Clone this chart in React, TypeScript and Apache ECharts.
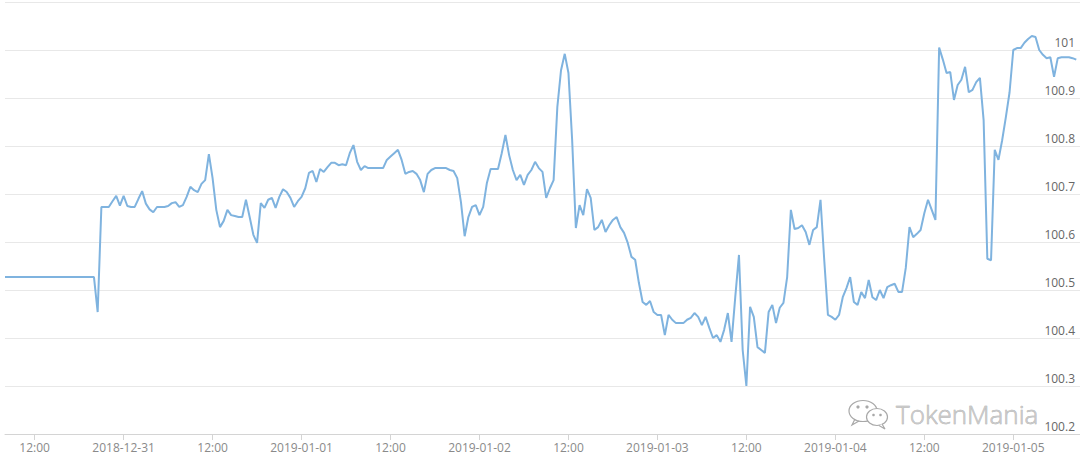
import React, { useEffect, useRef } from "react";
import * as echarts from "echarts";

// Prices sampled every 30 minutes, one array per day
const STEP_MINUTES = 30;

const dec30Start = "2018-12-30 08:00";
const dec30 = [
  100.527, 100.527, 100.527, 100.527, 100.527, 100.527, 100.527, 100.527, 100.527, 100.527,
  100.527, 100.527, 100.527, 100.527, 100.527, 100.527, 100.527, 100.527, 100.527, 100.527,
  100.527, 100.527, 100.527, 100.527, 100.527, 100.454, 100.673, 100.673, 100.673, 100.685,
  100.696, 100.676,
];

const dec31Start = "2018-12-31 00:00";
const dec31 = [
  100.696, 100.675, 100.673, 100.673, 100.69, 100.706, 100.68, 100.668, 100.662, 100.673,
  100.673, 100.673, 100.675, 100.681, 100.683, 100.673, 100.677, 100.694, 100.715, 100.708,
  100.704, 100.721, 100.729, 100.783, 100.733, 100.667, 100.631, 100.644, 100.667, 100.656,
  100.654, 100.652, 100.652, 100.688, 100.652, 100.615, 100.598, 100.681, 100.671, 100.688,
  100.692, 100.671, 100.694, 100.71, 100.704, 100.692, 100.673, 100.685,
];

const jan01Start = "2019-01-01 00:00";
const jan01 = [
  100.694, 100.712, 100.744, 100.748, 100.725, 100.752, 100.746, 100.756, 100.765, 100.765,
  100.76, 100.762, 100.76, 100.785, 100.802, 100.767, 100.75, 100.758, 100.754, 100.754,
  100.754, 100.754, 100.754, 100.771, 100.778, 100.785, 100.792, 100.771, 100.742, 100.746,
  100.748, 100.742, 100.729, 100.704, 100.742, 100.75, 100.754, 100.754, 100.754, 100.754,
  100.75, 100.748, 100.733, 100.683, 100.612, 100.652, 100.673, 100.677,
];

const jan02Start = "2019-01-02 00:00";
const jan02 = [
  100.656, 100.673, 100.723, 100.752, 100.752, 100.752, 100.785, 100.823, 100.781, 100.75,
  100.729, 100.74, 100.719, 100.74, 100.75, 100.767, 100.754, 100.746, 100.692, 100.712,
  100.729, 100.881, 100.958, 100.992, 100.952, 100.812, 100.629, 100.677, 100.656, 100.71,
  100.692, 100.625, 100.631, 100.646, 100.621, 100.635, 100.646, 100.652, 100.631, 100.619,
  100.598, 100.569, 100.563, 100.515, 100.475, 100.469, 100.477, 100.454,
];

const jan03Start = "2019-01-03 00:00";
const jan03 = [
  100.448, 100.448, 100.406, 100.448, 100.438, 100.431, 100.431, 100.431, 100.438, 100.442,
  100.452, 100.444, 100.427, 100.444, 100.421, 100.4, 100.406, 100.392, 100.417, 100.452,
  100.392, 100.485, 100.573, 100.375, 100.3, 100.465, 100.444, 100.381, 100.375, 100.369,
  100.454, 100.469, 100.431, 100.463, 100.473, 100.527, 100.667, 100.627, 100.629, 100.635,
  100.621, 100.594, 100.625, 100.631, 100.688, 100.563, 100.448, 100.444,
];

const jan04Start = "2019-01-04 00:00";
const jan04 = [
  100.438, 100.448, 100.485, 100.504, 100.527, 100.475, 100.469, 100.496, 100.483, 100.521,
  100.485, 100.479, 100.5, 100.483, 100.506, 100.51, 100.513, 100.496, 100.496, 100.546,
  100.631, 100.61, 100.617, 100.625, 100.66, 100.688, 100.667, 100.646, 101.005, 100.98,
  100.952, 100.954, 100.896, 100.927, 100.938, 100.965, 100.912, 100.917, 100.933, 100.942,
  100.854, 100.565, 100.562, 100.792, 100.771, 100.812, 100.86, 100.912,
];

const jan05Start = "2019-01-05 00:00";
const jan05 = [
  101.0, 101.004, 101.004, 101.015, 101.023, 101.029, 101.027, 101.0, 100.99, 100.983,
  100.985, 100.944, 100.983, 100.985, 100.985, 100.985, 100.983, 100.98,
];

// Axis ticks / labels
const xTickTimes = [
  "2018-12-30 12:00", "2018-12-31 00:00", "2018-12-31 12:00", "2019-01-01 00:00",
  "2019-01-01 12:00", "2019-01-02 00:00", "2019-01-02 12:00", "2019-01-03 00:00",
  "2019-01-03 12:00", "2019-01-04 00:00", "2019-01-04 12:00", "2019-01-05 00:00",
];
const xMinTime = "2018-12-30 08:00";
const xMaxTime = "2019-01-05 09:00";
const yMin = 100.2;
const yMax = 101.1;
const yStep = 0.1;
const yLabelValues = [100.2, 100.3, 100.4, 100.5, 100.6, 100.7, 100.8, 100.9, 101];

const watermarkText = "TokenMania";

function parseTime(s: string): number {
  const [d, t] = s.split(" ");
  const [Y, M, D] = d.split("-").map(Number);
  const [h, m] = t.split(":").map(Number);
  return new Date(Y, M - 1, D, h, m).getTime();
}

function pad(n: number) {
  return n < 10 ? "0" + n : String(n);
}

const dayBlocks: [string, number[]][] = [
  [dec30Start, dec30],
  [dec31Start, dec31],
  [jan01Start, jan01],
  [jan02Start, jan02],
  [jan03Start, jan03],
  [jan04Start, jan04],
  [jan05Start, jan05],
];

function buildData() {
  const out: [number, number][] = [];
  dayBlocks.forEach(([start, vals]) => {
    const base = parseTime(start);
    vals.forEach((v, j) => out.push([base + j * STEP_MINUTES * 60000, v]));
  });
  return out;
}

export default function App() {
  const ref = useRef<HTMLDivElement>(null);

  useEffect(() => {
    if (!ref.current) return;
    const chart = echarts.init(ref.current, null, { renderer: "svg" });
    const ticks = xTickTimes.map(parseTime);
    const gray = "#a8a8a8";

    chart.setOption({
      animation: false,
      backgroundColor: "#ffffff",
      grid: { left: 5, right: 0, top: 2, bottom: 25, containLabel: false },
      xAxis: {
        type: "value",
        min: parseTime(xMinTime),
        max: parseTime(xMaxTime),
        axisLine: { show: true, lineStyle: { color: "#d4d4d4", width: 1 } },
        axisTick: {
          show: true,
          length: 6,
          customValues: ticks,
          lineStyle: { color: "#d4d4d4" },
        },
        axisLabel: {
          customValues: ticks,
          margin: 7,
          color: "#8a8a8a",
          fontSize: 12,
          fontFamily: "Open Sans",
          formatter: (v: number) => {
            const d = new Date(v);
            if (d.getHours() === 0 && d.getMinutes() === 0) {
              return `${d.getFullYear()}-${pad(d.getMonth() + 1)}-${pad(d.getDate())}`;
            }
            return `${pad(d.getHours())}:${pad(d.getMinutes())}`;
          },
        },
        splitLine: { show: false },
      },
      yAxis: [
        {
          // grid lines
          type: "value",
          position: "right",
          min: yMin,
          max: yMax,
          interval: yStep,
          axisLine: { show: false },
          axisTick: { show: false },
          axisLabel: { show: false },
          splitLine: { show: true, lineStyle: { color: "#e8e8e8", width: 1 } },
        },
        {
          // labels (min nudged a hair below so the 100.2 label is not treated as the min label)
          type: "value",
          position: "right",
          min: yMin - 0.0005,
          max: yMax,
          axisLine: { show: false },
          axisTick: { show: false },
          splitLine: { show: false },
          axisLabel: {
            inside: true,
            margin: 5,
            verticalAlign: "bottom",
            customValues: yLabelValues,
            showMinLabel: true,
            hideOverlap: false,
            padding: [0, 0, 1, 0],
            color: "#666",
            fontSize: 12,
            fontFamily: "Open Sans",
            formatter: (v: number) => String(parseFloat(Number(v).toFixed(2))),
          },
        },
      ],
      series: [
        {
          type: "line",
          yAxisIndex: 0,
          data: buildData(),
          showSymbol: false,
          symbol: "none",
          lineStyle: { color: "#7fb3df", width: 2 },
          z: 2,
        },
      ],
      graphic: [
        {
          type: "group",
          z: 100,
          children: [
            // big bubble
            {
              type: "ellipse",
              shape: { cx: 863, cy: 411, rx: 14, ry: 10.5 },
              style: { fill: "none", stroke: gray, lineWidth: 1.2 },
            },
            {
              type: "polyline",
              shape: { points: [[855, 419], [852, 425], [859, 421]] },
              style: { fill: "none", stroke: gray, lineWidth: 1.2 },
            },
            { type: "circle", shape: { cx: 858, cy: 407, r: 1.6 }, style: { fill: gray } },
            { type: "circle", shape: { cx: 867, cy: 407, r: 1.6 }, style: { fill: gray } },
            // small bubble
            {
              type: "ellipse",
              shape: { cx: 877, cy: 417, rx: 10.5, ry: 8.5 },
              style: { fill: "#ffffff", stroke: gray, lineWidth: 1.2 },
            },
            {
              type: "polyline",
              shape: { points: [[882, 424], [885, 429], [879, 425.5]] },
              style: { fill: "#ffffff", stroke: gray, lineWidth: 1.2 },
            },
            { type: "circle", shape: { cx: 873.5, cy: 415, r: 1.3 }, style: { fill: gray } },
            { type: "circle", shape: { cx: 880.5, cy: 415, r: 1.3 }, style: { fill: gray } },
            {
              type: "text",
              x: 896,
              y: 414,
              style: {
                text: watermarkText,
                fontSize: 26,
                fontFamily: "Open Sans",
                fontWeight: 300,
                fill: "#c8c8c8",
                stroke: "#a0a0a0",
                lineWidth: 0.5,
                verticalAlign: "middle",
                align: "left",
              },
            },
          ],
        },
      ],
    });

    return () => chart.dispose();
  }, []);

  return (
    <div
      ref={ref}
      style={{ position: "absolute", left: 0, top: 0, width: 1080, height: 459 }}
    />
  );
}
